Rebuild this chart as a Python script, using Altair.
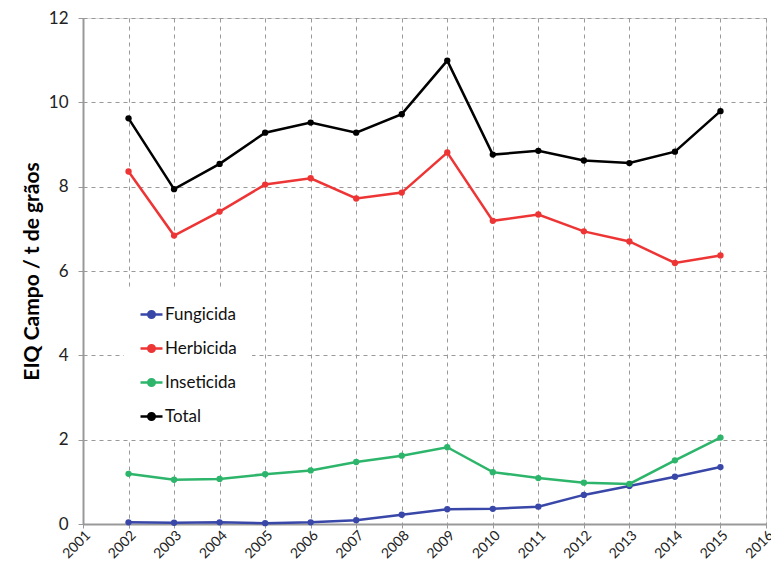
import altair as alt
import pandas as pd

years = list(range(2002, 2016))
fungicida = [0.04, 0.03, 0.04, 0.02, 0.04, 0.09, 0.22, 0.35, 0.36, 0.41, 0.69, 0.90, 1.12, 1.35]
herbicida = [8.36, 6.84, 7.41, 8.05, 8.20, 7.72, 7.86, 8.81, 7.19, 7.34, 6.94, 6.70, 6.19, 6.37]
inseticida = [1.19, 1.05, 1.07, 1.18, 1.27, 1.47, 1.62, 1.82, 1.23, 1.09, 0.98, 0.95, 1.51, 2.05]
total = [9.62, 7.94, 8.54, 9.28, 9.52, 9.28, 9.72, 10.99, 8.76, 8.85, 8.62, 8.56, 8.83, 9.79]

series_names = ["Fungicida", "Herbicida", "Inseticida", "Total"]
series_colors = ["#3947A8", "#EE3535", "#2DB56B", "#000000"]

rows = []
for name, vals in zip(series_names, [fungicida, herbicida, inseticida, total]):
    for y, v in zip(years, vals):
        rows.append({"Ano": y, "Valor": v, "Tipo": name})
df = pd.DataFrame(rows)

FONT = "Lato"

x = alt.X("Ano:Q",
          scale=alt.Scale(domain=[2001, 2016], nice=False),
          axis=alt.Axis(title=None, values=list(range(2001, 2017)), format="d",
                        labelAngle=-45, labelAlign="right", labelBaseline="top",
                        labelFontSize=14, labelColor="#222", labelPadding=0,
                        labelOverlap=False, labelBound=False, labelFlush=False,
                        grid=True, gridDash=[4, 4], gridColor="#999", gridWidth=1,
                        domainColor="#999", domainWidth=2, tickColor="#999", tickSize=4))
y = alt.Y("Valor:Q",
          scale=alt.Scale(domain=[0, 12], nice=False),
          axis=alt.Axis(title="EIQ Campo / t de grãos", values=[0, 2, 4, 6, 8, 10, 12],
                        titleFontSize=21, titleFontWeight="bold", titleColor="#000",
                        titlePadding=6,
                        labelFontSize=17, labelColor="#222", labelPadding=10,
                        grid=True, gridDash=[4, 4], gridColor="#999", gridWidth=1,
                        domainColor="#999", domainWidth=2, tickColor="#999", tickSize=5))
color = alt.Color("Tipo:N",
                  scale=alt.Scale(domain=series_names, range=series_colors),
                  legend=alt.Legend(title=None, orient="none", legendX=41, legendY=269,
                                    fillColor="white", padding=15,
                                    symbolType="M-1,0L1,0M-0.3,0A0.3,0.3 0 1,1 0.3,0A0.3,0.3 0 1,1 -0.3,0Z",
                                    symbolSize=484, symbolStrokeWidth=2.5,
                                    labelFontSize=17, labelColor="#111", labelOffset=1,
                                    rowPadding=13, labelFont=FONT))

lines = alt.Chart(df).mark_line(strokeWidth=2.5).encode(x=x, y=y, color=color)
points = alt.Chart(df).mark_point(filled=True, size=40, opacity=1).encode(x=x, y=y, color=color)

chart = alt.layer(lines, points).properties(
    width=683, height=506,
    autosize=alt.AutoSizeParams(type="none"),
    padding={"left": 75, "top": 10, "right": 5, "bottom": 36},
).configure_view(
    stroke="#000", strokeWidth=2
).configure(font=FONT)

chart.save("out.html", embed_options={"renderer": "svg", "actions": False})
